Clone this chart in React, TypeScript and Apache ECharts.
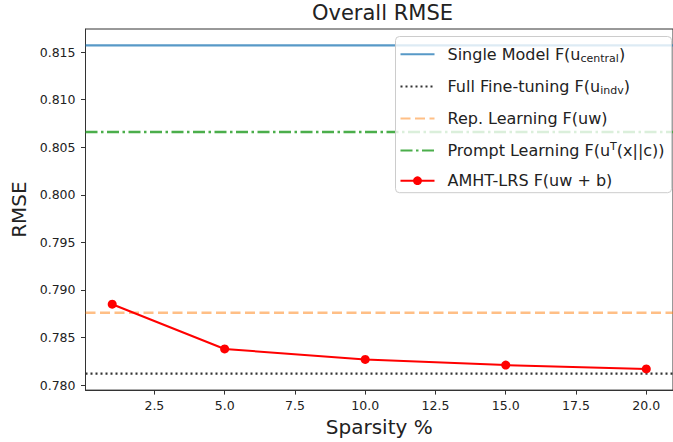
import React, { useEffect, useRef } from "react";
import * as echarts from "echarts";

// ---- data ----
const SPARSITY = [1, 5, 10, 15, 20];
const AMHT_LRS = [0.7885, 0.7838, 0.7827, 0.7821, 0.7817];
const SINGLE_MODEL = 0.8157;
const FULL_FINE_TUNING = 0.7812;
const REP_LEARNING = 0.7876;
const PROMPT_LEARNING = 0.8066;
const X_TICKS = [2.5, 5.0, 7.5, 10.0, 12.5, 15.0, 17.5, 20.0];
const Y_TICKS = [0.78, 0.785, 0.79, 0.795, 0.8, 0.805, 0.81, 0.815];

const NAMES = [
  "Single Model F(u_central)",
  "Full Fine-tuning F(u_indv)",
  "Rep. Learning F(uw)",
  "Prompt Learning F(u^T(x||c))",
  "AMHT-LRS F(uw + b)",
];
const RICH_LABELS: Record<string, string> = {
  [NAMES[0]]: "{n|Single Model F(u}{sub|central}{n|)}",
  [NAMES[1]]: "{n|Full Fine-tuning F(u}{sub|indv}{n|)}",
  [NAMES[2]]: "{n|Rep. Learning F(uw)}",
  [NAMES[3]]: "{n|Prompt Learning F(u}{sup|T}{n|(x||c))}",
  [NAMES[4]]: "{n|AMHT-LRS F(uw + b)}",
};

const FONT = "DejaVu Sans";

function margins(lo: number, hi: number) {
  const r = hi - lo;
  return [lo - 0.05 * r, hi + 0.05 * r];
}

export default function App() {
  const ref = useRef<HTMLDivElement>(null);
  useEffect(() => {
    if (!ref.current) return;
    const chart = echarts.init(ref.current, undefined, { renderer: "svg" });
    const allY = [...AMHT_LRS, SINGLE_MODEL, FULL_FINE_TUNING, REP_LEARNING, PROMPT_LEARNING];
    const [yMin, yMax] = margins(Math.min(...allY), Math.max(...allY));
    const [xMin, xMax] = margins(Math.min(...SPARSITY), Math.max(...SPARSITY));

    const hline = (name: string, value: number, color: string, width: number, type: any) => ({
      name,
      type: "line",
      data: [
        [xMin, value],
        [xMax, value],
      ],
      symbol: "none",
      showSymbol: false,
      silent: true,
      lineStyle: { color, width, type },
      itemStyle: { color },
    });

    const hidden = { color: "rgba(0,0,0,0)", opacity: 0, borderWidth: 0 };

    chart.setOption({
      animation: false,
      textStyle: { fontFamily: FONT },
      grid: {
        left: 85.5,
        top: 29,
        width: 595,
        height: 362,
        show: true,
        borderColor: "#333",
        borderWidth: 1,
        backgroundColor: "transparent",
      },
      graphic: [
        {
          type: "text",
          x: 382.5,
          y: 12.5,
          style: {
            text: "Overall RMSE",
            fontFamily: FONT,
            fontSize: 21,
            fill: "#222",
            textAlign: "center",
            textVerticalAlign: "middle",
          },
        },
      ],
      xAxis: {
        type: "value",
        min: xMin,
        max: xMax,
        name: "Sparsity %",
        nameLocation: "middle",
        nameGap: 24,
        nameTextStyle: { fontSize: 20, color: "#222", fontFamily: FONT },
        axisLine: { show: true, lineStyle: { color: "#333", width: 1 } },
        axisTick: { show: true, length: 4.5, customValues: X_TICKS, lineStyle: { color: "#333" } },
        axisLabel: {
          customValues: X_TICKS,
          formatter: (v: number) => v.toFixed(1),
          fontSize: 12.5,
          color: "#222",
          margin: 9,
          fontFamily: FONT,
        },
        splitLine: { show: false },
      },
      yAxis: {
        type: "value",
        min: yMin,
        max: yMax,
        name: "RMSE",
        nameLocation: "middle",
        nameGap: 55,
        nameTextStyle: { fontSize: 20, color: "#222", fontFamily: FONT },
        axisLine: { show: true, lineStyle: { color: "#333", width: 1 } },
        axisTick: { show: true, length: 4.5, customValues: Y_TICKS, lineStyle: { color: "#333" } },
        axisLabel: {
          customValues: Y_TICKS,
          formatter: (v: number) => v.toFixed(3),
          fontSize: 12.5,
          color: "#222",
          margin: 10,
          fontFamily: FONT,
        },
        splitLine: { show: false },
      },
      legend: {
        orient: "vertical",
        left: 395.5,
        top: 36.5,
        data: [
          { name: NAMES[0], itemStyle: hidden },
          { name: NAMES[1], itemStyle: hidden },
          { name: NAMES[2], itemStyle: hidden },
          { name: NAMES[3], itemStyle: hidden },
          { name: NAMES[4] },
        ],
        itemWidth: 34,
        itemHeight: 11,
        itemGap: 14.1,
        padding: [9.8, 7, 4, 4],
        backgroundColor: "rgba(255,255,255,0.8)",
        borderColor: "#cccccc",
        borderWidth: 1,
        borderRadius: 4,
        formatter: (name: string) => RICH_LABELS[name] || name,
        textStyle: {
          fontFamily: FONT,
          padding: [0, 0, 0, 8],
          rich: {
            n: { fontSize: 16, lineHeight: 20, color: "#222", fontFamily: FONT },
            sub: { fontSize: 11, lineHeight: 10, verticalAlign: "bottom", color: "#222", fontFamily: FONT },
            sup: { fontSize: 11, lineHeight: 10, verticalAlign: "top", color: "#222", fontFamily: FONT },
          },
        },
      },
      series: [
        hline(NAMES[0], SINGLE_MODEL, "rgba(31,119,180,0.75)", 2.2, "solid"),
        hline(NAMES[1], FULL_FINE_TUNING, "#333333", 2.2, [2, 3]),
        hline(NAMES[2], REP_LEARNING, "rgba(255,127,14,0.5)", 2.5, [10, 4.5]),
        hline(NAMES[3], PROMPT_LEARNING, "rgba(44,160,44,0.85)", 2.5, [12, 3.5, 2.5, 3.5]),
        {
          name: NAMES[4],
          type: "line",
          data: SPARSITY.map((x, i) => [x, AMHT_LRS[i]]),
          symbol: "circle",
          symbolSize: 9,
          lineStyle: { color: "#ff0000", width: 2 },
          itemStyle: { color: "#ff0000" },
          z: 5,
        },
      ],
    });
    return () => chart.dispose();
  }, []);
  return (
    <div
      ref={ref}
      style={{ position: "fixed", left: 0, top: 0, width: 673, height: 442, background: "#fff" }}
    />
  );
}
